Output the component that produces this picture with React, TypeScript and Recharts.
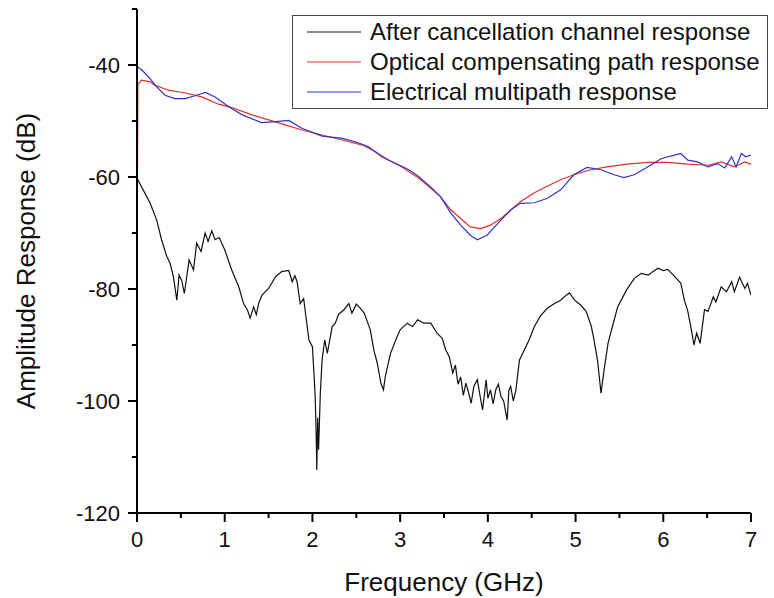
import { LineChart, Line, XAxis, YAxis, Legend } from "recharts";

// After cancellation channel response (black)
const afterFreq = [
  0, 0.01, 0.07, 0.15, 0.225, 0.28, 0.34, 0.377, 0.415, 0.454, 0.48, 0.51, 0.54, 0.594, 0.644, 0.68,
  0.73, 0.777, 0.81, 0.853, 0.89, 0.937, 1.0, 1.08, 1.16, 1.215, 1.26, 1.29, 1.33, 1.36, 1.39, 1.425,
  1.5, 1.58, 1.65, 1.73, 1.77, 1.8, 1.825, 1.86, 1.9, 1.96, 2.0, 2.03, 2.04, 2.05, 2.06, 2.07, 2.09,
  2.11, 2.14, 2.17, 2.225, 2.26, 2.3, 2.36, 2.415, 2.45, 2.5, 2.55, 2.59, 2.66, 2.7, 2.74, 2.78, 2.81,
  2.83, 2.89, 2.95, 3.0, 3.08, 3.14, 3.2, 3.27, 3.35, 3.42, 3.48, 3.52, 3.56, 3.6, 3.63, 3.66, 3.69,
  3.72, 3.75, 3.78, 3.81, 3.84, 3.88, 3.91, 3.94, 3.98, 4.0, 4.03, 4.06, 4.09, 4.12, 4.15, 4.18, 4.22,
  4.24, 4.26, 4.29, 4.32, 4.36, 4.415, 4.47, 4.53, 4.6, 4.68, 4.76, 4.83, 4.87, 4.93, 4.99, 5.06, 5.12,
  5.18, 5.21, 5.25, 5.29, 5.33, 5.37, 5.42, 5.48, 5.58, 5.67, 5.75, 5.83, 5.88, 5.94, 6.0, 6.05, 6.13,
  6.2, 6.24, 6.28, 6.32, 6.35, 6.38, 6.42, 6.47, 6.51, 6.57, 6.6, 6.66, 6.72, 6.78, 6.81, 6.87, 6.93,
  6.96, 7.0,
];
const afterDb = [
  -60, -60.5, -62.3, -64.7, -67.7, -71.2, -74.2, -75.4, -77.8, -82, -77.5, -78.5, -80.8, -74.8, -76.6,
  -71.8, -73.3, -70, -71.5, -69.6, -71.2, -70.8, -73, -76.6, -79.6, -82.6, -83.8, -85.2, -83.2, -84.6,
  -82.4, -81.1, -79.9, -77.8, -76.9, -76.7, -78.7, -77.6, -78.7, -82.6, -81.7, -89.1, -90.3, -98.6,
  -104, -112.3, -103, -108.7, -98.6, -92.7, -89.1, -91.5, -86.7, -86.1, -84.5, -83.7, -82.6, -84.3,
  -82.7, -83.5, -84.3, -87.3, -90.9, -93.3, -96.8, -98, -95.7, -91.5, -89.1, -87.3, -86.1, -86.7,
  -85.5, -86.1, -86.1, -87.9, -88.8, -90.9, -92.1, -95, -93.6, -97, -95.7, -99, -96.8, -98.5, -100.4,
  -97.4, -96.2, -99, -101.6, -96.2, -99.5, -98, -100.5, -98, -97, -99.2, -100, -103.4, -98, -97.4, -100,
  -98, -92.7, -90.9, -89.1, -86.7, -84.8, -83.4, -82.6, -82, -81.4, -80.7, -82, -82.9, -84, -86.7,
  -89.1, -92.7, -98.6, -93.9, -89.7, -86.7, -83.2, -80.2, -78.1, -77.2, -77.5, -76.9, -76.3, -76.7,
  -76.5, -77.8, -79, -82, -84, -87.3, -90, -87.9, -89.7, -83.7, -84, -81.4, -82.3, -79.6, -80.5, -78.7,
  -80.5, -77.9, -79.9, -79, -81.1,
];

// Optical compensating path response (red)
const opticalFreq = [
  0, 0.01, 0.05, 0.15, 0.2, 0.36, 0.55, 0.74, 0.93, 1.08, 1.31, 1.5, 1.69, 1.88, 2.11, 2.34, 2.57, 2.72,
  2.87, 3.02, 3.21, 3.35, 3.46, 3.58, 3.69, 3.8, 3.92, 4.03, 4.15, 4.26, 4.37, 4.53, 4.68, 4.83, 4.98,
  5.17, 5.36, 5.59, 5.82, 6.05, 6.28, 6.51, 6.66, 6.81, 6.93, 7.0,
];
const opticalDb = [
  -80, -43.5, -42.7, -43, -43.6, -44.5, -45, -45.7, -47, -47.6, -48.9, -49.8, -50.7, -51.6, -52.5,
  -53.4, -54.3, -55.5, -57, -58.2, -60.2, -62, -63.5, -65.9, -67.4, -68.9, -69.2, -68.6, -67.4, -65.9,
  -64.4, -62.8, -61.6, -60.5, -59.6, -58.7, -58.2, -57.7, -57.4, -57.4, -57.7, -57.9, -57.3, -58.2,
  -57.3, -57.7,
];

// Electrical multipath response (blue)
const electricalFreq = [
  0, 0.005, 0.05, 0.13, 0.225, 0.32, 0.43, 0.55, 0.66, 0.78, 0.89, 1.06, 1.2, 1.42, 1.58, 1.73, 1.88,
  2.11, 2.34, 2.49, 2.64, 2.79, 2.95, 3.1, 3.21, 3.35, 3.46, 3.58, 3.69, 3.8, 3.88, 3.99, 4.13, 4.26,
  4.37, 4.53, 4.68, 4.83, 4.98, 5.13, 5.29, 5.44, 5.55, 5.67, 5.82, 5.98, 6.13, 6.2, 6.28, 6.39, 6.51,
  6.62, 6.7, 6.78, 6.83, 6.89, 6.94, 7.0,
];
const electricalDb = [
  -81, -40.3, -40.8, -42.1, -43.9, -45.4, -46, -46, -45.5, -44.9, -45.7, -47.6, -48.9, -50.3, -50.1,
  -49.9, -51.3, -52.7, -53.1, -53.7, -54.6, -56.4, -57.6, -58.7, -59.9, -61.8, -63.5, -66.5, -68.6,
  -70.4, -71.2, -70.4, -68, -65.9, -64.7, -64.6, -63.8, -62.3, -59.6, -58.3, -58.7, -59.6, -60.1,
  -59.6, -58.2, -56.7, -56.1, -55.8, -57, -57.3, -58.2, -57.6, -58.4, -56.4, -58.2, -55.8, -56.4,
  -56.1,
];

const seriesNames = [
  "After cancellation channel response",
  "Optical compensating path response",
  "Electrical multipath response",
];
const freqTicks = [0, 0.5, 1, 1.5, 2, 2.5, 3, 3.5, 4, 4.5, 5, 5.5, 6, 6.5, 7];
const dbTicks = [-120, -110, -100, -90, -80, -70, -60, -50, -40, -30];

const toPoints = (fs: number[], vs: number[]) => fs.map((f, i) => ({ f, v: vs[i] }));

function FreqTick({ x, y, payload }: any) {
  const major = Number.isInteger(payload.value);
  return (
    <g>
      <line x1={x} x2={x} y1={y} y2={y + (major ? 9 : 5)} stroke="#000" strokeWidth={2} />
      {major && (
        <text x={x} y={y + 34} textAnchor="middle" fontSize={22} fill="#111">
          {payload.value}
        </text>
      )}
    </g>
  );
}

function DbTick({ x, y, payload }: any) {
  const major = payload.value % 20 === 0;
  return (
    <g>
      <line x1={x} x2={x - (major ? 9 : 5)} y1={y} y2={y} stroke="#000" strokeWidth={2} />
      {major && (
        <text x={x - 17} y={y + 8} textAnchor="end" fontSize={22} fill="#111">
          {payload.value}
        </text>
      )}
    </g>
  );
}

function LegendBox({ payload }: any) {
  const items = [...(payload || [])].sort(
    (a: any, b: any) => seriesNames.indexOf(a.value) - seriesNames.indexOf(b.value)
  );
  return (
    <div style={{ border: "1px solid #444", padding: "1px 0 1px 14px", background: "#fff" }}>
      {items.map((item: any) => (
        <div key={item.value} style={{ display: "flex", alignItems: "center", height: 30 }}>
          <svg width={54} height={4} style={{ marginRight: 9, flex: "none" }}>
            <line x1={0} x2={54} y1={2} y2={2} stroke={item.color} strokeWidth={1.2} />
          </svg>
          <span style={{ fontSize: 24, color: "#111", whiteSpace: "nowrap" }}>{item.value}</span>
        </div>
      ))}
    </div>
  );
}

export default function App() {
  return (
    <div
      style={{
        position: "absolute",
        left: 0,
        top: 0,
        width: 774,
        height: 598,
        background: "#fff",
        fontFamily: "'Liberation Sans', Arial, sans-serif",
      }}
    >
      <LineChart width={774} height={598} margin={{ top: 9, right: 23, left: 0, bottom: 0 }}>
        <XAxis
          type="number"
          dataKey="f"
          domain={[0, 7]}
          ticks={freqTicks}
          height={85}
          tickSize={0}
          tickMargin={0}
          tickLine={false}
          tick={<FreqTick />}
          axisLine={{ stroke: "#000", strokeWidth: 2 }}
          allowDataOverflow
          label={{ value: "Frequency (GHz)", position: "insideBottom", offset: 7, fontSize: 26, fill: "#111" }}
        />
        <YAxis
          type="number"
          domain={[-120, -30]}
          ticks={dbTicks}
          width={137}
          tickSize={0}
          tickMargin={0}
          tickLine={false}
          tick={<DbTick />}
          axisLine={{ stroke: "#000", strokeWidth: 2 }}
          allowDataOverflow
          label={{
            value: "Amplitude Response (dB)",
            angle: -90,
            position: "insideLeft",
            offset: 26,
            fontSize: 26,
            fill: "#111",
            style: { textAnchor: "middle" },
          }}
        />
        <Legend
          layout="vertical"
          align="center"
          verticalAlign="middle"
          content={<LegendBox />}
          wrapperStyle={{ left: 292, top: 15, width: 476 }}
        />
        <Line
          data={toPoints(afterFreq, afterDb)}
          dataKey="v"
          name={seriesNames[0]}
          stroke="#111"
          strokeWidth={1.2}
          dot={false}
          isAnimationActive={false}
        />
        <Line
          data={toPoints(opticalFreq, opticalDb)}
          dataKey="v"
          name={seriesNames[1]}
          stroke="#e0302a"
          strokeWidth={1.2}
          dot={false}
          isAnimationActive={false}
        />
        <Line
          data={toPoints(electricalFreq, electricalDb)}
          dataKey="v"
          name={seriesNames[2]}
          stroke="#3232c8"
          strokeWidth={1.2}
          dot={false}
          isAnimationActive={false}
        />
      </LineChart>
    </div>
  );
}
